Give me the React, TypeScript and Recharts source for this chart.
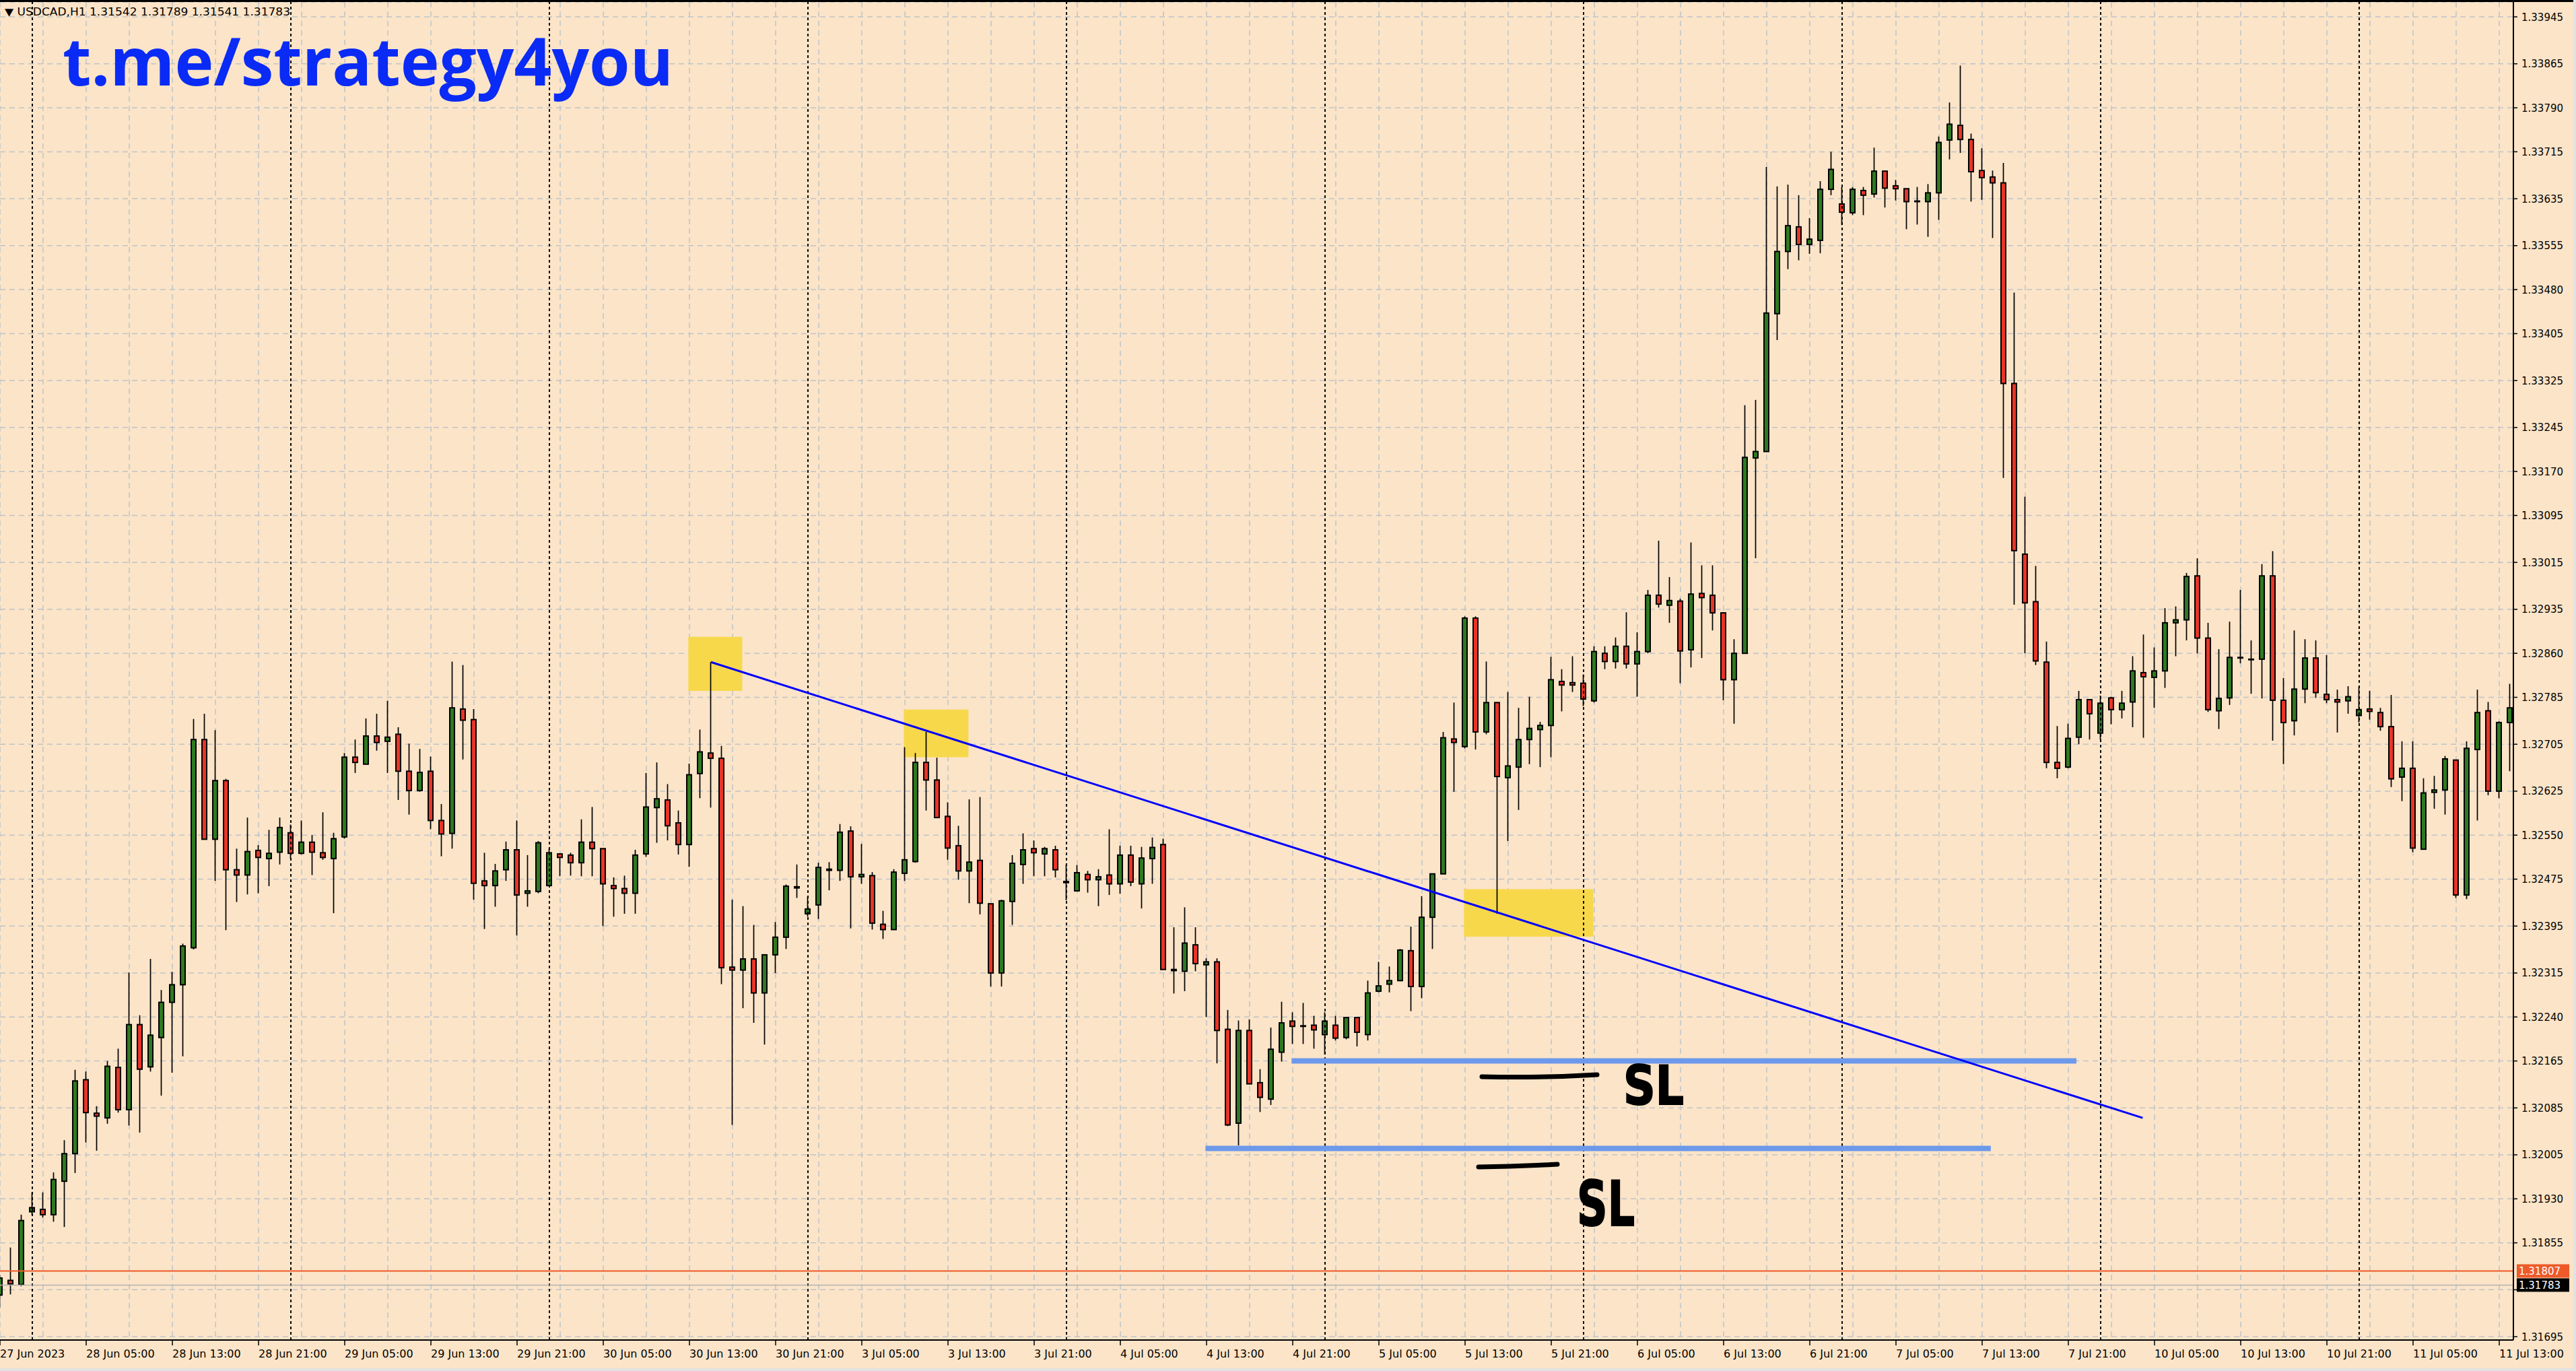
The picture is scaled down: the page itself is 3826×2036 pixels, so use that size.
import {
  ComposedChart,
  Bar,
  XAxis,
  YAxis,
  CartesianGrid,
  ReferenceLine,
  ReferenceArea,
} from "recharts";

// USDCAD H1, 27 Jun 21:00 -> 11 Jul 14:00 (one entry per hour bar)
const openPrices = [
  1.31766, 1.31791, 1.31784, 1.31908, 1.31912, 1.31903, 1.3196, 1.32007, 1.32133, 1.32076,
  1.32068, 1.32154, 1.32082, 1.32227, 1.32155, 1.32205, 1.32265, 1.32295, 1.32358, 1.32713,
  1.32543, 1.32643, 1.32491, 1.32482, 1.32524, 1.3251, 1.32521, 1.32554, 1.32519, 1.32538,
  1.3252, 1.3251, 1.32547, 1.32683, 1.32671, 1.32719, 1.3271, 1.32722, 1.32659, 1.32626,
  1.32659, 1.32575, 1.32553, 1.32765, 1.32747, 1.32472, 1.32464, 1.32491, 1.32525, 1.32451,
  1.32454, 1.32464, 1.32518, 1.32516, 1.32503, 1.32538, 1.32527, 1.32464, 1.32459, 1.32451,
  1.32518, 1.32597, 1.3261, 1.32571, 1.32534, 1.32655, 1.3269, 1.32681, 1.32325, 1.3232,
  1.32339, 1.32281, 1.32346, 1.32376, 1.32462, 1.32416, 1.32431, 1.32492, 1.3249, 1.32557,
  1.32479, 1.32481, 1.32398, 1.32389, 1.32485, 1.32505, 1.32674, 1.32644, 1.32582, 1.32532,
  1.32489, 1.32507, 1.32433, 1.32315, 1.32437, 1.325, 1.32527, 1.32518, 1.32525, 1.32471,
  1.32455, 1.32483, 1.32474, 1.32482, 1.32467, 1.32516, 1.32467, 1.3251, 1.32534, 1.32321,
  1.32318, 1.32363, 1.32329, 1.32334, 1.32219, 1.32059, 1.32217, 1.32128, 1.321, 1.3218,
  1.32233, 1.32225, 1.32226, 1.3221, 1.32226, 1.32205, 1.32239, 1.3221, 1.32284, 1.32296,
  1.32302, 1.32353, 1.32292, 1.3241, 1.32484, 1.32714, 1.32701, 1.3292, 1.32726, 1.32776,
  1.32648, 1.32666, 1.32713, 1.3273, 1.32737, 1.32812, 1.3281, 1.32809, 1.32779, 1.3286,
  1.32846, 1.32872, 1.32842, 1.32863, 1.32959, 1.32942, 1.32949, 1.32866, 1.32962, 1.32959,
  1.32929, 1.32815, 1.3286, 1.33193, 1.33204, 1.33439, 1.33545, 1.33587, 1.33557, 1.33564,
  1.33651, 1.33626, 1.33611, 1.33649, 1.33643, 1.33682, 1.33657, 1.33652, 1.33631, 1.3363,
  1.33645, 1.33735, 1.3376, 1.33736, 1.33683, 1.33672, 1.33662, 1.3332, 1.33029, 1.32948,
  1.32845, 1.32674, 1.32666, 1.32717, 1.32781, 1.32724, 1.32784, 1.32764, 1.32777, 1.32827,
  1.32819, 1.3283, 1.32912, 1.32917, 1.32992, 1.32886, 1.32762, 1.32784, 1.32853, 1.3285,
  1.3285, 1.32992, 1.3278, 1.32745, 1.32799, 1.32852, 1.3279, 1.32781, 1.32779, 1.32754,
  1.32765, 1.32759, 1.32735, 1.32649, 1.32664, 1.32526, 1.32623, 1.32627, 1.32678, 1.32448,
  1.32696, 1.32762, 1.32625, 1.32742,
];

const highPrices = [
  1.318, 1.31847, 1.31903, 1.31941, 1.31941, 1.31975, 1.3203, 1.3215, 1.32147, 1.32088,
  1.32165, 1.32186, 1.32316, 1.32243, 1.32339, 1.32286, 1.32317, 1.32365, 1.32748, 1.32757,
  1.32729, 1.32646, 1.32527, 1.3258, 1.32533, 1.32559, 1.3258, 1.32568, 1.32575, 1.3255,
  1.32589, 1.32554, 1.3269, 1.32713, 1.32749, 1.32757, 1.32779, 1.32734, 1.32706, 1.32697,
  1.32684, 1.32603, 1.32846, 1.3284, 1.32765, 1.3252, 1.32501, 1.32539, 1.32575, 1.32516,
  1.3254, 1.32527, 1.32519, 1.3252, 1.32577, 1.32598, 1.32527, 1.32478, 1.32481, 1.32525,
  1.32656, 1.32674, 1.32637, 1.32592, 1.32672, 1.3273, 1.32845, 1.32702, 1.3244, 1.32429,
  1.32397, 1.32346, 1.32402, 1.32466, 1.325, 1.32445, 1.32503, 1.32504, 1.32569, 1.32565,
  1.32535, 1.32487, 1.32421, 1.32492, 1.327, 1.3269, 1.32726, 1.32682, 1.32606, 1.32566,
  1.32611, 1.32615, 1.32433, 1.3244, 1.32516, 1.32553, 1.32541, 1.3253, 1.32532, 1.325,
  1.32499, 1.32489, 1.32492, 1.3256, 1.32532, 1.32532, 1.3253, 1.32546, 1.32544, 1.32393,
  1.32427, 1.32393, 1.3234, 1.3234, 1.32252, 1.32234, 1.32236, 1.32151, 1.32222, 1.32266,
  1.32248, 1.32264, 1.32242, 1.32248, 1.32242, 1.3224, 1.3224, 1.32302, 1.32334, 1.32326,
  1.32356, 1.32394, 1.32446, 1.32484, 1.32726, 1.32776, 1.32923, 1.32923, 1.32846, 1.32776,
  1.32794, 1.32767, 1.32786, 1.32743, 1.32854, 1.32833, 1.32855, 1.32824, 1.32872, 1.32872,
  1.32887, 1.3293, 1.32896, 1.32968, 1.33052, 1.3299, 1.32953, 1.33049, 1.3301, 1.3301,
  1.3293, 1.32884, 1.33283, 1.33292, 1.33689, 1.33656, 1.33659, 1.33641, 1.33602, 1.33665,
  1.33715, 1.33655, 1.33655, 1.33655, 1.33722, 1.33682, 1.33667, 1.33652, 1.33655, 1.3366,
  1.33741, 1.33799, 1.33862, 1.33746, 1.33721, 1.33683, 1.33696, 1.33475, 1.33127, 1.33009,
  1.3288, 1.32736, 1.3274, 1.32796, 1.32781, 1.32788, 1.32786, 1.32796, 1.32855, 1.32892,
  1.3287, 1.32937, 1.3294, 1.32997, 1.33022, 1.32912, 1.32867, 1.32914, 1.32968, 1.32882,
  1.33012, 1.33034, 1.32818, 1.32899, 1.32884, 1.32882, 1.32857, 1.32798, 1.32804, 1.32803,
  1.32796, 1.32767, 1.32789, 1.3271, 1.3271, 1.32647, 1.32651, 1.32685, 1.32678, 1.3271,
  1.32798, 1.32777, 1.32744, 1.32808,
];

const lowPrices = [
  1.31745, 1.31767, 1.31781, 1.31903, 1.31898, 1.31891, 1.31882, 1.31974, 1.32026, 1.32012,
  1.32058, 1.32077, 1.32055, 1.32043, 1.32147, 1.32106, 1.32145, 1.32173, 1.32355, 1.32543,
  1.32472, 1.32388, 1.32436, 1.32449, 1.32451, 1.32463, 1.325, 1.3251, 1.32517, 1.32482,
  1.32508, 1.32417, 1.32544, 1.32656, 1.32671, 1.32694, 1.32656, 1.3261, 1.32585, 1.32624,
  1.3256, 1.32514, 1.32527, 1.32679, 1.3244, 1.3239, 1.32428, 1.32472, 1.32379, 1.32428,
  1.32451, 1.32463, 1.3248, 1.32481, 1.3248, 1.3248, 1.32395, 1.32411, 1.32416, 1.32416,
  1.32513, 1.32537, 1.32541, 1.32517, 1.32496, 1.32613, 1.32597, 1.32296, 1.32056, 1.32255,
  1.3223, 1.32193, 1.32315, 1.32356, 1.32443, 1.32411, 1.32407, 1.32456, 1.32472, 1.32391,
  1.32467, 1.32389, 1.32373, 1.32389, 1.32472, 1.32503, 1.32592, 1.32579, 1.32508, 1.32474,
  1.32434, 1.32415, 1.32292, 1.32292, 1.32397, 1.32467, 1.3248, 1.3248, 1.32478, 1.32439,
  1.32455, 1.32452, 1.32429, 1.32448, 1.3245, 1.32463, 1.32425, 1.32467, 1.32321, 1.3228,
  1.32284, 1.32318, 1.3224, 1.32161, 1.32054, 1.32021, 1.32126, 1.32078, 1.3209, 1.32164,
  1.32194, 1.32194, 1.32186, 1.32176, 1.322, 1.32202, 1.3219, 1.322, 1.32282, 1.32282,
  1.32301, 1.3225, 1.32272, 1.32356, 1.32484, 1.32624, 1.32698, 1.32696, 1.32722, 1.32416,
  1.3254, 1.32593, 1.32671, 1.32666, 1.32683, 1.32761, 1.32794, 1.3277, 1.32776, 1.32833,
  1.32834, 1.32834, 1.32786, 1.3286, 1.32938, 1.32912, 1.32809, 1.32836, 1.32852, 1.32899,
  1.3278, 1.3274, 1.3286, 1.33022, 1.33204, 1.33394, 1.33515, 1.3353, 1.33541, 1.33542,
  1.33641, 1.3359, 1.33607, 1.33607, 1.33637, 1.3362, 1.33632, 1.33583, 1.33591, 1.3357,
  1.33599, 1.33702, 1.33713, 1.3363, 1.33633, 1.33568, 1.33159, 1.32943, 1.3286, 1.3284,
  1.32664, 1.32647, 1.32664, 1.32705, 1.32713, 1.32713, 1.32739, 1.32749, 1.32734, 1.32716,
  1.32767, 1.32801, 1.32855, 1.32882, 1.3286, 1.3276, 1.32731, 1.32772, 1.32843, 1.32791,
  1.32783, 1.32711, 1.32671, 1.3272, 1.32775, 1.32784, 1.32775, 1.32725, 1.32757, 1.32742,
  1.32747, 1.32728, 1.32632, 1.32608, 1.32521, 1.32526, 1.32595, 1.32585, 1.32443, 1.32441,
  1.32575, 1.32618, 1.32613, 1.32659,
];

const closePrices = [
  1.31795, 1.31785, 1.31893, 1.31915, 1.31903, 1.31963, 1.32007, 1.32131, 1.32077, 1.32071,
  1.32156, 1.32082, 1.32227, 1.32151, 1.32209, 1.32265, 1.32295, 1.32361, 1.32713, 1.32543,
  1.32643, 1.32491, 1.32482, 1.32522, 1.32512, 1.32519, 1.32563, 1.32519, 1.32538, 1.32521,
  1.32512, 1.32544, 1.32683, 1.32674, 1.32719, 1.32708, 1.32717, 1.32659, 1.32626, 1.32657,
  1.32575, 1.32552, 1.32767, 1.32746, 1.32468, 1.32464, 1.32489, 1.32525, 1.32448, 1.32455,
  1.32537, 1.3252, 1.32512, 1.32503, 1.32538, 1.32527, 1.32467, 1.32459, 1.32451, 1.32516,
  1.32598, 1.32612, 1.32566, 1.32534, 1.32653, 1.32692, 1.32681, 1.32324, 1.3232, 1.32339,
  1.32281, 1.32346, 1.32376, 1.32463, 1.3246, 1.32424, 1.32495, 1.3249, 1.32555, 1.32479,
  1.32483, 1.324, 1.32389, 1.32487, 1.32508, 1.32674, 1.32644, 1.3258, 1.32528, 1.32489,
  1.32504, 1.32434, 1.32315, 1.32438, 1.32502, 1.32525, 1.3252, 1.32527, 1.32491, 1.32469,
  1.32486, 1.32474, 1.32479, 1.32467, 1.32516, 1.3247, 1.32511, 1.32529, 1.32321, 1.32319,
  1.32366, 1.32331, 1.32334, 1.32217, 1.32056, 1.32217, 1.32126, 1.32103, 1.32185, 1.3223,
  1.32224, 1.32224, 1.32218, 1.32233, 1.32204, 1.32239, 1.32214, 1.32281, 1.32293, 1.32302,
  1.32354, 1.32292, 1.3241, 1.32484, 1.32716, 1.32708, 1.3292, 1.32726, 1.32776, 1.3265,
  1.32668, 1.32713, 1.32732, 1.32737, 1.32815, 1.32806, 1.32806, 1.32782, 1.32863, 1.32846,
  1.32872, 1.32842, 1.32863, 1.32959, 1.32944, 1.3295, 1.32864, 1.32961, 1.32955, 1.32929,
  1.32815, 1.3286, 1.33194, 1.33204, 1.3344, 1.33545, 1.33589, 1.33557, 1.33566, 1.33651,
  1.33685, 1.33612, 1.33651, 1.33641, 1.33682, 1.33653, 1.33652, 1.3363, 1.3363, 1.33645,
  1.33731, 1.33762, 1.33736, 1.33681, 1.33671, 1.33662, 1.3332, 1.33035, 1.32946, 1.32847,
  1.32674, 1.32664, 1.32715, 1.32781, 1.32757, 1.32775, 1.32764, 1.32775, 1.3283, 1.3282,
  1.3283, 1.32912, 1.32917, 1.32991, 1.32886, 1.32764, 1.32783, 1.32853, 1.32852, 1.32849,
  1.32992, 1.3278, 1.32742, 1.32799, 1.32852, 1.32793, 1.32781, 1.32777, 1.32786, 1.32764,
  1.32761, 1.32735, 1.32646, 1.32664, 1.32528, 1.32622, 1.32627, 1.3268, 1.32448, 1.32698,
  1.32759, 1.32625, 1.32742, 1.32767,
];

// one label every 8 bars, starting at bar 0
const timeLabels = [
  "27 Jun 2023", "28 Jun 05:00", "28 Jun 13:00", "28 Jun 21:00", "29 Jun 05:00",
  "29 Jun 13:00", "29 Jun 21:00", "30 Jun 05:00", "30 Jun 13:00", "30 Jun 21:00",
  "3 Jul 05:00", "3 Jul 13:00", "3 Jul 21:00", "4 Jul 05:00", "4 Jul 13:00",
  "4 Jul 21:00", "5 Jul 05:00", "5 Jul 13:00", "5 Jul 21:00", "6 Jul 05:00",
  "6 Jul 13:00", "6 Jul 21:00", "7 Jul 05:00", "7 Jul 13:00", "7 Jul 21:00",
  "10 Jul 05:00", "10 Jul 13:00", "10 Jul 21:00", "11 Jul 05:00", "11 Jul 13:00",
];

const priceTicks = [
  1.33945, 1.33865, 1.3379, 1.33715, 1.33635, 1.33555, 1.3348, 1.33405, 1.33325, 1.33245,
  1.3317, 1.33095, 1.33015, 1.32935, 1.3286, 1.32785, 1.32705, 1.32625, 1.3255, 1.32475,
  1.32395, 1.32315, 1.3224, 1.32165, 1.32085, 1.32005, 1.3193, 1.31855, 1.31775, 1.31695,
];

// bars that open a new day (00:00)
const dayStarts = [3, 27, 51, 75, 99, 123, 147, 171, 195, 219];

const trendStart = { x: 66, y: 1.32845 };
const trendEnd = { x: 198.9, y: 1.32068 };
const slLevels = [
  { y: 1.32165, from: 119.9, to: 192.75 },
  { y: 1.32016, from: 111.9, to: 184.8 },
];
const zones = [
  { x1: 63.9, x2: 68.9, y1: 1.32796, y2: 1.32888 },
  { x1: 83.9, x2: 89.9, y1: 1.32683, y2: 1.32764 },
  { x1: 135.9, x2: 147.9, y1: 1.32377, y2: 1.32458 },
];
const askPrice = 1.31807;
const bidPrice = 1.31783;

const BG = "#fbe4c8";
const GREEN = "#2e7a20";
const RED = "#ea3427";
const GRID = "#bfc3c8";

const data = openPrices.map((o, i) => ({
  i,
  open: o,
  high: highPrices[i],
  low: lowPrices[i],
  close: closePrices[i],
}));

const gridTicks: number[] = [];
for (let t = 0; t <= 232; t += 4) gridTicks.push(t);

function Candle(props: any) {
  const { x, y, width, height, payload } = props;
  if (!payload) return null;
  const { open, high, low, close } = payload;
  const cx = x + width / 2;
  const top = Math.min(y, y + height);
  const span = Math.abs(height);
  const range = high - low || 1e-9;
  const py = (p: number) => top + ((high - p) / range) * span;
  const bTop = py(Math.max(open, close));
  const bBot = py(Math.min(open, close));
  return (
    <g>
      <line x1={cx} x2={cx} y1={top} y2={top + span} stroke="#000" strokeWidth={1.7} />
      <rect
        x={cx - 3.5}
        y={bTop}
        width={7}
        height={Math.max(bBot - bTop, 0.6)}
        fill={close >= open ? GREEN : RED}
        stroke="#000"
        strokeWidth={2}
      />
    </g>
  );
}

function XTick(props: any) {
  const { x, y, payload } = props;
  const v = payload.value;
  if (v % 8 !== 0) return null;
  return (
    <g>
      <line x1={x} x2={x} y1={y} y2={y + 8} stroke="#000" strokeWidth={1.5} />
      <text x={x} y={y + 26} fontSize={16} fontFamily="DejaVu Sans" fill="#000" textAnchor="start">
        {timeLabels[v / 8]}
      </text>
    </g>
  );
}

function YTick(props: any) {
  const { x, y, payload } = props;
  const v = payload.value;
  return (
    <g>
      <line x1={x} x2={x + 6} y1={y} y2={y} stroke="#000" strokeWidth={1.5} />
      {v !== 1.31775 && (
        <text x={x + 12} y={y + 5.5} fontSize={15} fontFamily="DejaVu Sans" fill="#000">
          {v.toFixed(5)}
        </text>
      )}
    </g>
  );
}

const priceTag = (value: number, bg: string) => (props: any) => {
  const vb = props.viewBox || {};
  const left = (vb.x || 0) + (vb.width || 0) + 5;
  const cy = vb.y || 0;
  return (
    <g>
      <rect x={left} y={cy - 10} width={78} height={20} fill={bg} />
      <text x={left + 3} y={cy + 5.5} fontSize={15} fontFamily="DejaVu Sans" fill="#fff">
        {value.toFixed(5)}
      </text>
    </g>
  );
};

export default function App() {
  return (
    <div
      style={{
        position: "relative",
        width: 3826,
        height: 2036,
        background: BG,
        overflow: "hidden",
      }}
    >
      <style>{`html,body{margin:0;padding:0;overflow:hidden;}`}</style>
      <ComposedChart
        width={3826}
        height={2036}
        data={data}
        margin={{ top: 3, right: 0, bottom: 0, left: 0 }}
      >
        <CartesianGrid stroke={GRID} strokeDasharray="8 6" strokeWidth={1.5} />
        <XAxis
          dataKey="i"
          type="number"
          domain={[0, 233.3125]}
          allowDataOverflow
          ticks={gridTicks}
          interval={0}
          tick={<XTick />}
          tickLine={false}
          tickSize={0}
          tickMargin={0}
          height={46}
          axisLine={{ stroke: "#000", strokeWidth: 2 }}
        />
        <YAxis
          orientation="right"
          type="number"
          domain={[1.316893, 1.339703]}
          allowDataOverflow
          ticks={priceTicks}
          interval={0}
          width={93}
          tick={<YTick />}
          tickLine={false}
          tickSize={0}
          tickMargin={0}
          axisLine={{ stroke: "#000", strokeWidth: 2 }}
        />
        {zones.map((z, k) => (
          <ReferenceArea
            key={`z${k}`}
            x1={z.x1}
            x2={z.x2}
            y1={z.y1}
            y2={z.y2}
            fill="#f7d84b"
            fillOpacity={1}
            stroke="none"
          />
        ))}
        {dayStarts.map((d) => (
          <ReferenceLine key={`d${d}`} x={d} stroke="#000" strokeWidth={2} strokeDasharray="4 4" />
        ))}
        <ReferenceLine y={askPrice} stroke="#ee5a2a" strokeWidth={2} label={priceTag(askPrice, "#ee5a2a")} />
        <ReferenceLine y={bidPrice} stroke="#b4b4b4" strokeWidth={1.5} label={priceTag(bidPrice, "#000")} />
        <Bar
          dataKey={(d: any) => [d.low, d.high]}
          barSize={9}
          shape={<Candle />}
          isAnimationActive={false}
        />
        {slLevels.map((s, k) => (
          <ReferenceLine
            key={`sl${k}`}
            segment={[
              { x: s.from, y: s.y },
              { x: s.to, y: s.y },
            ]}
            stroke="#6d99ea"
            strokeWidth={8}
          />
        ))}
        <ReferenceLine segment={[trendStart, trendEnd]} stroke="#0000ff" strokeWidth={3} />
      </ComposedChart>

      <svg
        width={3826}
        height={2036}
        style={{ position: "absolute", left: 0, top: 0, pointerEvents: "none" }}
      >
        <rect x={0} y={0} width={3826} height={3} fill="#000" />
        <rect x={0} y={2032} width={3826} height={4} fill="#e2e2e2" />
        <rect x={3822} y={0} width={4} height={2036} fill="#e2e2e2" />
        <text
          x={7}
          y={23}
          fontSize={15}
          fontFamily="DejaVu Sans"
          fill="#000"
          textLength={424}
          lengthAdjust="spacingAndGlyphs"
        >
          ▼ USDCAD,H1  1.31542 1.31789 1.31541 1.31783
        </text>
        <text
          x={93}
          y={127}
          fontSize={98}
          fontWeight={700}
          fontFamily="Open Sans"
          fill="#0a2bf5"
          textLength={907}
          lengthAdjust="spacingAndGlyphs"
        >
          t.me/strategy4you
        </text>
        <path d="M2201,1599 Q2290,1601 2372,1596" stroke="#000" strokeWidth={7} strokeLinecap="round" fill="none" />
        <text
          x={2411}
          y={1640}
          fontSize={80}
          fontWeight={700}
          fontFamily="DejaVu Sans"
          fill="#000"
          stroke="#000"
          strokeWidth={2}
          textLength={90}
          lengthAdjust="spacingAndGlyphs"
        >
          SL
        </text>
        <path d="M2196,1733 Q2255,1732 2313,1729" stroke="#000" strokeWidth={7} strokeLinecap="round" fill="none" />
        <text
          x={2342}
          y={1820}
          fontSize={92}
          fontWeight={700}
          fontFamily="DejaVu Sans"
          fill="#000"
          stroke="#000"
          strokeWidth={2}
          textLength={86}
          lengthAdjust="spacingAndGlyphs"
        >
          SL
        </text>
      </svg>
    </div>
  );
}
